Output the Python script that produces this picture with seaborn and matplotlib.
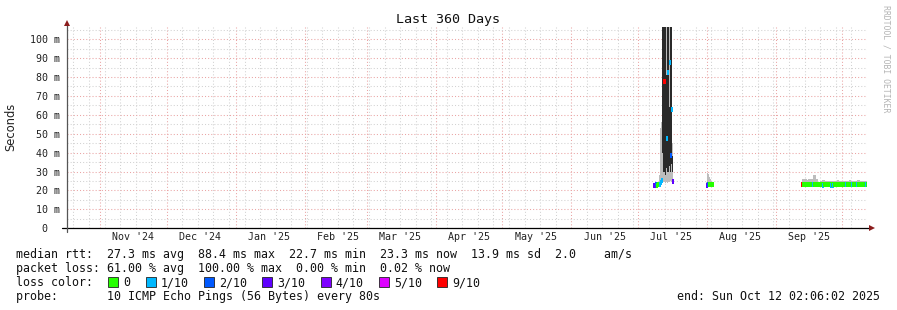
import numpy as np
import pandas as pd
import matplotlib
matplotlib.use("Agg")
import matplotlib.pyplot as plt
import matplotlib.dates as mdates
from matplotlib.patches import Rectangle
from matplotlib.transforms import blended_transform_factory
import seaborn as sns

nan = np.nan

# ------------------------------------------------------------------ data
TITLE = "Last 360 Days"
END_TIME = "2025-10-12 02:06:02"
SPAN_DAYS = 360
BIN_HOURS = 12

# early/mid July burst (12 h bins)
jul_first_bin = "2025-07-08 00:00"
jul_median = [23.0, 23.2, 23.0, 23.2, 23.3, 23.5, 24.5, 25.5, nan, 78.0,
              nan, 47.5, 82.5, nan, 88.0, 39.0, 63.0, 25.0]
jul_loss = [3, 2, 0, 0, 0, 1, 1, 1, 1, 9, 1, 1, 1, 1, 1, 2, 1, 3]
jul_smoke_lo = [22.6, 22.7, 22.6, 22.7, 22.8, 22.9, 23.2, 24.0, 25.0, 24.5,
                24.0, 24.5, 24.0, 24.5, 24.5, 25.0, 24.5, 24.0]
jul_smoke_hi = [24.0, 24.5, 23.8, 24.2, 24.5, 28.0, 53.0, 56.0, 110.0, 110.0,
                110.0, 110.0, 110.0, 110.0, 110.0, 110.0, 110.0, 45.0]
jul_core_lo = [nan, nan, nan, nan, nan, nan, nan, nan, 40.0, 30.0,
               28.0, 32.0, 30.0, 30.0, 33.0, 30.0, 34.0, 30.0]
jul_core_hi = [nan, nan, nan, nan, nan, nan, nan, nan, 110.0, 110.0,
               110.0, 81.0, 110.0, 110.0, 64.0, 110.0, 110.0, 38.0]

# start of August blip (12 h bins)
aug_first_bin = "2025-07-31 12:00"
aug_median = [23.0, 23.2, 23.4, 23.3, 23.3, 23.2, 23.2]
aug_loss = [3, 2, 0, 0, 0, 0, 0]
aug_smoke_lo = [22.7, 22.8, 22.7, 22.8, 22.7, 22.7, 22.8]
aug_smoke_hi = [24.5, 29.0, 28.5, 27.0, 26.0, 25.0, 24.5]

# mid September to now (12 h bins)
sep_first_bin = "2025-09-12 12:00"
sep_median = [23.6, 23.4, 23.3, 23.3, 23.4, 23.3, 23.3, 23.2, 23.3, 23.3,
              23.6, 23.4, 23.3, 23.3, 23.2, 23.2, 23.3, 23.3, 23.2, 23.1,
              23.3, 23.3, 23.4, 23.3, 23.3, 23.3, 23.1, 23.3, 22.8, 23.3,
              23.4, 23.3, 23.3, 23.3, 23.4, 23.3, 23.3, 23.3, 23.3, 23.2,
              23.3, 23.3, 23.4, 23.3, 23.3, 23.2, 23.3, 23.3, 23.3, 23.3,
              23.3, 23.4, 23.3, 23.3, 23.3, 23.3, 23.3, 23.3, 23.3]
sep_loss = [9, 0, 0, 0, 0, 0, 0, 0, 0, 0,
            1, 0, 0, 0, 0, 0, 0, 0, 0, 1,
            0, 0, 0, 0, 0, 0, 1, 0, 1, 0,
            0, 0, 0, 0, 0, 0, 0, 0, 0, 1,
            0, 0, 0, 0, 0, 1, 0, 0, 0, 1,
            0, 0, 0, 0, 0, 0, 0, 1, 0]
sep_smoke_lo = [22.8, 22.7, 22.7, 22.8, 22.7, 22.7, 22.8, 22.7, 22.7, 22.8,
                22.7, 22.7, 22.8, 22.7, 22.7, 22.7, 22.8, 22.7, 22.7, 22.7,
                22.8, 22.7, 22.7, 22.7, 22.8, 22.7, 22.7, 22.7, 22.7, 22.8,
                22.7, 22.7, 22.8, 22.7, 22.7, 22.7, 22.8, 22.7, 22.7, 22.7,
                22.8, 22.7, 22.7, 22.7, 22.8, 22.7, 22.7, 22.7, 22.8, 22.7,
                22.7, 22.7, 22.8, 22.7, 22.7, 22.7, 22.8, 22.7, 22.7]
sep_smoke_hi = [24.0, 25.9, 25.9, 26.0, 25.9, 25.8, 25.9, 26.0, 25.9, 25.9,
                25.9, 28.0, 28.0, 25.9, 25.9, 24.6, 24.6, 25.0, 25.0, 25.8,
                25.8, 25.0, 25.0, 25.1, 25.0, 25.0, 25.0, 25.1, 25.0, 25.0,
                25.0, 25.0, 25.5, 25.5, 25.0, 25.0, 25.1, 25.0, 25.0, 25.0,
                25.0, 25.1, 25.0, 25.5, 25.5, 25.0, 25.0, 25.0, 25.1, 25.0,
                25.3, 25.3, 25.3, 25.0, 25.0, 25.1, 25.0, 25.0, 25.0]

month_labels = ["Nov '24", "Dec '24", "Jan '25", "Feb '25", "Mar '25", "Apr '25",
                "May '25", "Jun '25", "Jul '25", "Aug '25", "Sep '25"]
month_label_dates = ["2024-11-16", "2024-12-16", "2025-01-16", "2025-02-16",
                     "2025-03-16", "2025-04-16", "2025-05-16", "2025-06-16",
                     "2025-07-16", "2025-08-16", "2025-09-16"]

y_ticks = [0, 10, 20, 30, 40, 50, 60, 70, 80, 90, 100]
y_tick_labels = ["0\u00a0\u00a0", "10 m", "20 m", "30 m", "40 m", "50 m",
                 "60 m", "70 m", "80 m", "90 m", "100 m"]
y_minor_ticks = [5, 15, 25, 35, 45, 55, 65, 75, 85, 95, 105]

loss_levels = [0, 1, 2, 3, 4, 5, 9]
loss_labels = ["0", "1/10", "2/10", "3/10", "4/10", "5/10", "9/10"]
loss_colors = ["#26ff00", "#00b8ff", "#0059ff", "#5e00ff", "#7e00ff", "#dd00ff", "#ff0000"]

line_rtt = "median rtt:  27.3 ms avg  88.4 ms max  22.7 ms min  23.3 ms now  13.9 ms sd  2.0    am/s"
line_loss = "packet loss: 61.00 % avg  100.00 % max  0.00 % min  0.02 % now"
line_color = "loss color:"
line_probe = "probe:       10 ICMP Echo Pings (56 Bytes) every 80s"
line_end = "end: Sun Oct 12 02:06:02 2025"
y_title = "Seconds"
watermark = "RRDTOOL / TOBI OETIKER"

# ------------------------------------------------------------------ style
sns.set_theme(style="white")
MONO = ["DejaVu Sans Mono", "DejaVu Sans"]
plt.rcParams["font.family"] = MONO

W, H = 897, 310
fig = plt.figure(figsize=(W / 100, H / 100), dpi=100)
fig.patch.set_facecolor("white")

ax_left, ax_right, ax_top, ax_bottom = 67, 867, 26.5, 228.3
ax = fig.add_axes([ax_left / W, 1 - ax_bottom / H, (ax_right - ax_left) / W,
                   (ax_bottom - ax_top) / H])
ax.set_facecolor("white")

end = pd.Timestamp(END_TIME)
start = end - pd.Timedelta(days=SPAN_DAYS)
ax.set_xlim(mdates.date2num(start), mdates.date2num(end))
ax.set_ylim(0, 106.7)

SMOKE = "#bdbdbd"
CORE = "#2a2a2a"
bw = BIN_HOURS / 24.0


def loss_color(c):
    col = loss_colors[0]
    for lv, cc in zip(loss_levels, loss_colors):
        if c >= lv:
            col = cc
    return col


def draw_segment(first, med, loss, lo, hi, clo=None, chi=None):
    t = mdates.date2num(pd.date_range(first, periods=len(med), freq=f"{BIN_HOURS}h"))
    te = np.append(t, t[-1] + bw)
    lo_e = np.append(lo, lo[-1])
    hi_e = np.append(hi, hi[-1])
    ax.fill_between(te, lo_e, hi_e, step="post", color=SMOKE, linewidth=0,
                    antialiased=False, zorder=2)
    if clo is not None:
        clo_e = np.append(clo, clo[-1])
        chi_e = np.append(chi, chi[-1])
        ax.fill_between(te, clo_e, chi_e, step="post", color=CORE, linewidth=0,
                        antialiased=False, zorder=3)
    cols = [loss_color(c) for c in loss]
    ax.hlines(med, t, t + bw, colors=cols, linewidth=2.35, antialiased=False, zorder=4)


draw_segment(jul_first_bin, jul_median, jul_loss, jul_smoke_lo, jul_smoke_hi,
             jul_core_lo, jul_core_hi)
draw_segment(aug_first_bin, aug_median, aug_loss, aug_smoke_lo, aug_smoke_hi)
draw_segment(sep_first_bin, sep_median, sep_loss, sep_smoke_lo, sep_smoke_hi)

# grid
RED_GRID = "#eaa4a4"
GRAY_GRID = "#d2d2d2"
ax.set_yticks(y_ticks)
ax.set_yticklabels(y_tick_labels)
ax.set_yticks(y_minor_ticks, minor=True)
ax.xaxis.set_major_locator(mdates.MonthLocator())
ax.xaxis.set_minor_locator(mdates.WeekdayLocator(byweekday=mdates.SU))
ax.xaxis.set_major_formatter(matplotlib.ticker.NullFormatter())
ax.xaxis.set_minor_formatter(matplotlib.ticker.NullFormatter())
ax.set_axisbelow(True)
ax.grid(which="major", color=RED_GRID, linestyle=(0, (1, 2)), linewidth=0.75)
ax.grid(which="minor", color=GRAY_GRID, linestyle=(0, (1, 2)), linewidth=0.75)

ax.tick_params(axis="y", which="major", direction="out", length=3.6, width=0.7,
               color="#666666", pad=1.4, labelsize=7.2, labelcolor="#222222")
ax.tick_params(axis="y", which="minor", direction="out", length=1.5, width=0.7,
               color="#999999")
ax.tick_params(axis="x", which="major", direction="in", length=2.2, width=0.7,
               color="#e08080")
ax.tick_params(axis="x", which="minor", direction="in", length=1.5, width=0.7,
               color="#888888")
for lab in ax.get_yticklabels():
    lab.set_fontfamily(MONO)

sns.despine(ax=ax, top=True, right=True)
ax.spines["left"].set_visible(False)
ax.spines["bottom"].set_visible(False)

# axes lines + arrows
pw = ax_right - ax_left
ph = ax_bottom - ax_top
ax.plot([-5 / pw, 1 + 3 / pw], [0, 0], transform=ax.transAxes, clip_on=False,
        color="black", lw=0.9, zorder=6)
ax.plot([0, 0], [-4 / ph, 1 + 2 / ph], transform=ax.transAxes, clip_on=False,
        color="#555555", lw=0.9, zorder=6)
ax.plot([1 + 5 / pw], [0], marker=">", ms=4, color="#8b1c1c", transform=ax.transAxes,
        clip_on=False, zorder=7, markeredgewidth=0)
ax.plot([0], [1 + 4 / ph], marker="^", ms=4, color="#8b1c1c", transform=ax.transAxes,
        clip_on=False, zorder=7, markeredgewidth=0)

# month labels
trans = blended_transform_factory(ax.transData, ax.transAxes)
for lbl, d in zip(month_labels, month_label_dates):
    ax.text(mdates.date2num(pd.Timestamp(d)), -9 / ph, lbl, transform=trans,
            ha="center", va="center", fontsize=7.2, color="#222222", family=MONO)

# titles
fig.text(0.4994, 1 - 19 / H, TITLE, ha="center", va="center", fontsize=9.6,
         family=MONO, color="#111111")
fig.text(11 / W, 1 - 127 / H, y_title, rotation=90, ha="center", va="center",
         fontsize=8.3, family=["DejaVu Sans"], color="#222222")
fig.text(886 / W, 1 - 59 / H, watermark, rotation=270, ha="center", va="center",
         fontsize=5.9, family=MONO, color="#b4b4b4")

# legend rows
FS = 8.4
fig.text(16 / W, 1 - 254.5 / H, line_rtt, ha="left", va="center", fontsize=FS, family=MONO, color="#111111")
fig.text(16 / W, 1 - 268.5 / H, line_loss, ha="left", va="center", fontsize=FS, family=MONO, color="#111111")
fig.text(16 / W, 1 - 282.5 / H, line_color, ha="left", va="center", fontsize=FS, family=MONO, color="#111111")
fig.text(16 / W, 1 - 296.5 / H, line_probe, ha="left", va="center", fontsize=FS, family=MONO, color="#111111")
fig.text(880 / W, 1 - 296.5 / H, line_end, ha="right", va="center", fontsize=FS, family=MONO, color="#111111")

for i, (lbl, col) in enumerate(zip(loss_labels, loss_colors)):
    bx = 108 if i == 0 else 146 + (i - 1) * 58.2
    fig.patches.append(Rectangle((bx / W, 1 - 286.5 / H), 10 / W, 10 / H,
                                 transform=fig.transFigure, facecolor=col,
                                 edgecolor="#222222", linewidth=0.6))
    fig.text((bx + 15) / W, 1 - 282.5 / H, lbl, ha="left", va="center",
             fontsize=FS, family=MONO, color="#111111")

fig.savefig("out.png", dpi=100)
